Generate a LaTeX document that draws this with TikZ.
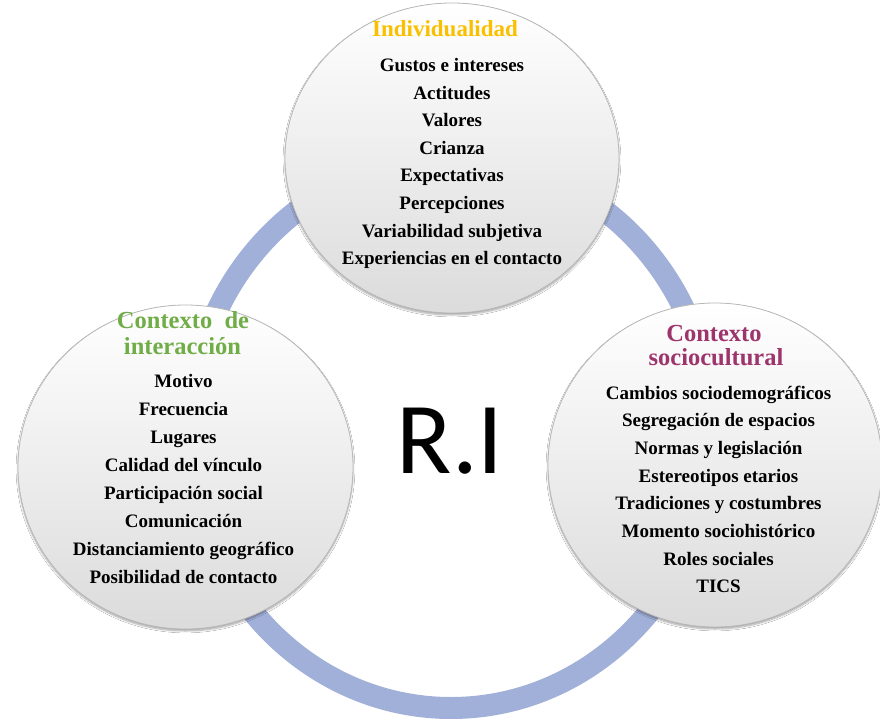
\documentclass[tikz,border=0pt]{standalone}
\usepackage{fontspec}
\setmainfont{Liberation Serif}
\newfontfamily\calibrifont{Carlito}
\usetikzlibrary{shapes.geometric,shadows.blur}
\definecolor{ringblue}{RGB}{161,176,216}
\definecolor{titlegold}{RGB}{250,192,0}
\definecolor{titlegreen}{RGB}{112,173,71}
\definecolor{titleplum}{RGB}{158,52,108}

\begin{document}
\begin{tikzpicture}[x=1pt,y=-1pt,
    bubble/.style={ellipse, inner sep=0pt, draw=black!28, line width=0.8pt, top color=white, middle color=black!3, bottom color=black!14,
        blur shadow={shadow xshift=0pt, shadow yshift=-2pt, shadow opacity=35, shadow blur steps=6}},
    item/.style={anchor=base, font=\bfseries\fontsize{19}{22}\selectfont},
    heading/.style={anchor=base, font=\bfseries\fontsize{24.5}{28}\selectfont}]
    \fill[white] (0,0) rectangle (880,719);
    \useasboundingbox (0,0) rectangle (880,719);
    \draw[ringblue, line width=22pt] (451,433) ellipse [x radius=261, y radius=275];
    \node[bubble, minimum width=334pt, minimum height=310pt] (indiv) at (452,158) {};
    \node[bubble, minimum width=335pt, minimum height=324pt] (inter) at (185.5,467) {};
    \node[bubble, minimum width=334pt, minimum height=324pt] (socio) at (715,465) {};
    \node[heading, text=titlegold, font=\bfseries\fontsize{23}{26}\selectfont] (indtitle) at (445,37) {Individualidad};
    \node[heading, text=titlegreen] (intertitle) at (183,328) {Contexto\ \ de};
    \node[heading, text=titlegreen] (intertitle2) at (182.5,354) {interacción};
    \node[heading, text=titleplum] (sociotitle) at (714,341) {Contexto};
    \node[heading, text=titleplum] (sociotitle2) at (716,365) {sociocultural};
    \foreach \t [count=\i from 0] in {Gustos e intereses, Actitudes, Valores, Crianza, Expectativas, Percepciones, Variabilidad subjetiva, Experiencias en el contacto}
        \node[item] (ind-\i) at (452,{71.5+27.6*\i}) {\t};
    \foreach \t [count=\i from 0] in {Motivo, Frecuencia, Lugares, Calidad del vínculo, Participación social, Comunicación, Distanciamiento geográfico, Posibilidad de contacto}
        \node[item] (int-\i) at (183.5,{387+28*\i}) {\t};
    \foreach \t [count=\i from 0] in {Cambios sociodemográficos, Segregación de espacios, Normas y legislación, Estereotipos etarios, Tradiciones y costumbres, Momento sociohistórico, Roles sociales, TICS}
        \node[item] (soc-\i) at (718.5,{399+27.7*\i}) {\t};
    \node[anchor=base, font=\calibrifont\fontsize{102}{110}\selectfont] (ri) at (450,473) {R.I};
\end{tikzpicture}
\end{document}
